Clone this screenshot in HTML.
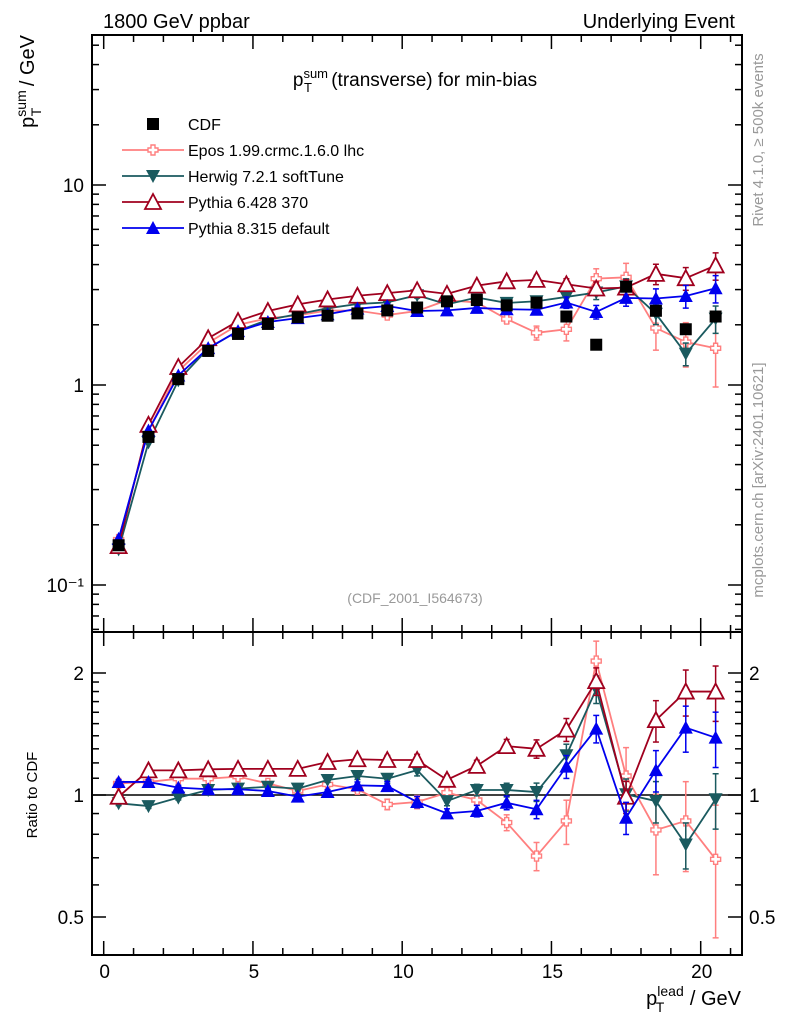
<!DOCTYPE html>
<html><head><meta charset="utf-8"><style>
html,body{margin:0;padding:0;background:#fff;}
svg{display:block;font-family:"Liberation Sans",sans-serif;}
</style></head><body>
<svg id="c" width="786" height="1024" viewBox="0 0 786 1024" xmlns="http://www.w3.org/2000/svg">
<text x="103" y="28" font-size="20">1800 GeV ppbar</text>
<text x="735" y="28" font-size="20" text-anchor="end">Underlying Event</text>
<text x="415" y="86" font-size="19" text-anchor="middle">p<tspan font-size="13" dy="-8">sum</tspan><tspan font-size="13" dx="-24" dy="14">T</tspan><tspan dy="-6" dx="14"> (transverse) for min-bias</tspan></text>
<text x="415" y="603" font-size="14" fill="#999" text-anchor="middle">(CDF_2001_I564673)</text>
<text transform="translate(763,140) rotate(-90)" font-size="15" fill="#999" text-anchor="middle">Rivet 4.1.0, ≥ 500k events</text>
<text transform="translate(763,480) rotate(-90)" font-size="15" fill="#999" text-anchor="middle">mcplots.cern.ch [arXiv:2401.10621]</text>
<text transform="translate(34,35) rotate(-90)" font-size="20" text-anchor="end">p<tspan font-size="14" dy="-8">sum</tspan><tspan font-size="14" dx="-26" dy="15">T</tspan><tspan dy="-7" dx="16"> / GeV</tspan></text>
<text transform="translate(37,795) rotate(-90)" font-size="15" text-anchor="middle">Ratio to CDF</text>
<text x="741" y="1005" font-size="20" text-anchor="end">p<tspan font-size="14" dy="-9">lead</tspan><tspan font-size="14" dx="-28" dy="16">T</tspan><tspan dy="-7" dx="20"> / GeV</tspan></text>
<g id="plot"></g>
</svg>
<script>
const xs=[0.5,1.5,2.5,3.5,4.5,5.5,6.5,7.5,8.5,9.5,10.5,11.5,12.5,13.5,14.5,15.5,16.5,17.5,18.5,19.5,20.5];
const cdf=[0.158,0.55,1.07,1.48,1.80,2.02,2.18,2.22,2.28,2.36,2.44,2.62,2.66,2.50,2.58,2.20,1.59,3.10,2.35,1.90,2.20];
const rEpos=[1.068,1.077,1.097,1.097,1.110,1.068,1.023,1.062,1.033,0.948,0.961,1.013,0.972,0.855,0.707,0.863,2.14,1.114,0.820,0.863,0.694];
const rHerwig=[0.954,0.939,0.985,1.029,1.037,1.048,1.037,1.089,1.114,1.097,1.152,0.966,1.029,1.029,1.017,1.253,1.824,1.004,0.966,0.755,0.976];
const rPy6=[0.99,1.15,1.15,1.157,1.16,1.16,1.16,1.206,1.225,1.22,1.22,1.09,1.18,1.32,1.30,1.45,1.91,0.99,1.53,1.80,1.80];
const rPy8=[1.077,1.077,1.043,1.033,1.033,1.023,0.991,1.017,1.056,1.052,0.961,0.901,0.913,0.957,0.922,1.175,1.458,0.879,1.152,1.466,1.385];
const relErr=[0.01,0.01,0.01,0.01,0.01,0.01,0.01,0.01,0.015,0.02,0.025,0.02,0.025,0.03,0.04,0.05,0.06,0.07,0.09,0.1,0.12];
const eposErrScale=[1,1,1,1,1,1,1,1,1,1.5,1.5,1,1,1.5,2,2.5,2,2.5,2.5,2.5,3];
const xTicks=[0,5,10,15,20];
const mainTickLabels=["10\u207B\u00B9","1","10"];
const ratioTickLabels=["0.5","1","2"];

const NS="http://www.w3.org/2000/svg";
const L=92,R=742,MT=35,MB=632,RT=632,RB=955;
const X=v=>103.7+v*29.85;
const Ym=v=>385-200*Math.log10(v);
const Yr=v=>795-122*Math.log2(v);
const g=document.getElementById('plot');
function el(t,a,p){const e=document.createElementNS(NS,t);for(const k in a)e.setAttribute(k,a[k]);(p||g).appendChild(e);return e;}

let f=el('rect',{x:L,y:MT,width:R-L,height:MB-MT,fill:'none',stroke:'#000','stroke-width':2});


f=el('rect',{x:L,y:RT,width:R-L,height:RB-RT,fill:'none',stroke:'#000','stroke-width':2});



for(let v=0;v<=21;v++){const maj=v%5==0,len=maj?14:7,x=X(v);if(x>R-2)continue;
 for(const [y0,dir] of [[MT,1],[MB,-1],[RT,1],[RB,-1]]){
  el('line',{x1:x,x2:x,y1:y0,y2:y0+dir*len,stroke:'#000','stroke-width':1.5});}
}
xTicks.forEach(v=>{const t=el('text',{x:X(v)+1,y:978,'font-size':19,'text-anchor':'middle'});t.textContent=v;

});

for(let d=-2;d<=1;d++)for(let m=1;m<=9;m++){const v=m*Math.pow(10,d),y=Ym(v);if(y<MT||y>MB)continue;
 const len=m==1?14:7;
 el('line',{x1:L,x2:L+len,y1:y,y2:y,stroke:'#000','stroke-width':1.5});
 el('line',{x1:R,x2:R-len,y1:y,y2:y,stroke:'#000','stroke-width':1.5});}
[0.1,1,10].forEach((v,i)=>{const t=el('text',{x:84,y:Ym(v)+7,'font-size':19,'text-anchor':'end'});t.textContent=mainTickLabels[i];

});

[0.5,0.6,0.7,0.8,0.9,1,1.1,1.2,1.3,1.4,1.5,1.6,1.7,1.8,1.9,2].forEach(v=>{const y=Yr(v),maj=(v==0.5||v==1||v==2),len=maj?14:7;
 el('line',{x1:L,x2:L+len,y1:y,y2:y,stroke:'#000','stroke-width':1.5});
 el('line',{x1:R,x2:R-len,y1:y,y2:y,stroke:'#000','stroke-width':1.5});});
[0.5,1,2].forEach((v,i)=>{let t=el('text',{x:84,y:Yr(v)+7,'font-size':19,'text-anchor':'end'});t.textContent=ratioTickLabels[i];


t=el('text',{x:749,y:Yr(v)+7,'font-size':19});t.textContent=ratioTickLabels[i];

});
let ln=el('line',{x1:L,x2:R,y1:Yr(1),y2:Yr(1),stroke:'#000','stroke-width':1.5});



function marker(p,type,x,y,col){
 if(type=='sq')el('rect',{x:x-6,y:y-6,width:12,height:12,fill:'#000'},p);
 else if(type=='cross'){const s=2,o=5;el('path',{d:`M${x-s},${y-o}h${2*s}v${o-s}h${o-s}v${2*s}h${-(o-s)}v${o-s}h${-2*s}v${-(o-s)}h${-(o-s)}v${-2*s}h${o-s}z`,fill:'#fff',stroke:col,'stroke-width':1.4},p);}
 else if(type=='down')el('path',{d:`M${x-7},${y-6}L${x+7},${y-6}L${x},${y+7}z`,fill:col},p);
 else if(type=='up')el('path',{d:`M${x-7},${y+6}L${x+7},${y+6}L${x},${y-7}z`,fill:col},p);
 else if(type=='upo')el('path',{d:`M${x-8},${y+7}L${x+8},${y+7}L${x},${y-8}z`,fill:'#fff',stroke:col,'stroke-width':1.8},p);
}
const series=[
 {name:'epos',col:'#ff7f7f',type:'cross',r:rEpos,es:eposErrScale},
 {name:'herwig',col:'#1a5a5f',type:'down',r:rHerwig,es:null},
 {name:'pythia6',col:'#a0001e',type:'upo',r:rPy6,es:null},
 {name:'pythia8',col:'#0000ee',type:'up',r:rPy8,es:null}];
series.forEach(s=>{
 for(const panel of ['main','ratio']){
  const sg=el('g',{});
  
  
  const Y=panel=='main'?Ym:Yr;
  const vals=xs.map((x,i)=>panel=='main'?s.r[i]*cdf[i]:s.r[i]);
  el('polyline',{points:xs.map((x,i)=>X(x)+','+Y(vals[i])).join(' '),fill:'none',stroke:s.col,'stroke-width':1.8},sg);
  xs.forEach((x,i)=>{const e=relErr[i]*(s.es?s.es[i]:1.3);const lo=Math.max(Y(vals[i]*(1+e)),panel=='main'?MT:RT),hi=Math.min(Y(vals[i]*(1-e)),panel=='main'?MB:RB);
   if(hi-lo>3){el('line',{x1:X(x),x2:X(x),y1:lo,y2:hi,stroke:s.col,'stroke-width':1.5},sg);
    el('line',{x1:X(x)-3,x2:X(x)+3,y1:lo,y2:lo,stroke:s.col,'stroke-width':1.5},sg);
    el('line',{x1:X(x)-3,x2:X(x)+3,y1:hi,y2:hi,stroke:s.col,'stroke-width':1.5},sg);}
   marker(sg,s.type,X(x),Y(vals[i]),s.col);});
 }
});
const dg=el('g',{});


xs.forEach((x,i)=>marker(dg,'sq',X(x),Ym(cdf[i]),'#000'));

const leg=[['CDF','sq','#000'],['Epos 1.99.crmc.1.6.0 lhc','cross','#ff7f7f'],['Herwig 7.2.1 softTune','down','#1a5a5f'],['Pythia 6.428 370','upo','#a0001e'],['Pythia 8.315 default','up','#0000ee']];
leg.forEach((l,i)=>{const y=124+i*26;const lg=el('g',{});
 
 
 if(i>0)el('line',{x1:122,x2:184,y1:y,y2:y,stroke:l[2],'stroke-width':1.8},lg);
 marker(lg,l[1],153,y,l[2]);
 const t=el('text',{x:188,y:y+6,'font-size':16},lg);t.textContent=l[0];});
</script>
</body></html>
